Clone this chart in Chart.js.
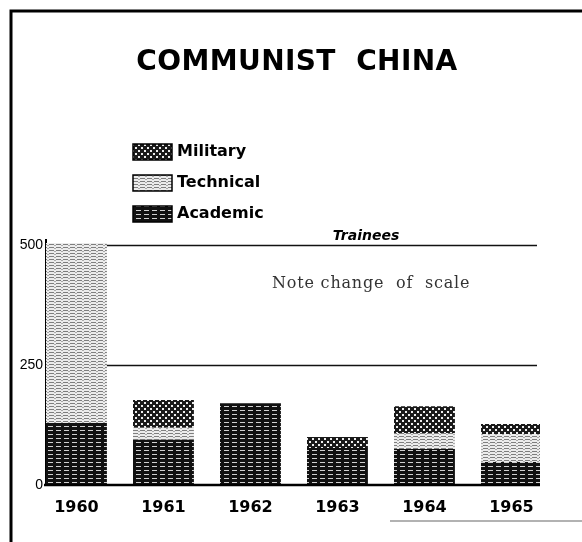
<!DOCTYPE html>
<html>
<head>
<meta charset="utf-8">
<script src="https://cdn.jsdelivr.net/npm/chart.js@4.4.1/dist/chart.umd.min.js"></script>
<style>
html,body{margin:0;padding:0;background:#fff;}
#wrap{position:relative;width:582px;height:542px;}
</style>
</head>
<body>
<div id="wrap"><canvas id="c" width="582" height="542"></canvas></div>
<script>
// ---- data ----
const categories = ['1960','1961','1962','1963','1964','1965'];
const academic  = [129, 94, 170, 77, 75, 48];
const technical = [375, 25, 0, 0, 33, 58];
const military  = [0, 58, 0, 23, 56, 21];
const yTicks = [0, 250, 500];
const title = 'COMMUNIST  CHINA';
const legendLabels = ['Military', 'Technical', 'Academic'];
const unitLabel = 'Trainees';
const noteText = 'Note change  of  scale';

// ---- patterns ----
function makePattern(w, h, draw) {
  const cv = document.createElement('canvas');
  cv.width = w; cv.height = h;
  const g = cv.getContext('2d');
  draw(g, w, h);
  return document.getElementById('c').getContext('2d').createPattern(cv, 'repeat');
}
const pAcademic = makePattern(8, 4, (g, w, h) => {
  g.fillStyle = '#111'; g.fillRect(0, 0, w, h);
  g.fillStyle = '#d0d0d0'; g.fillRect(0, 2, 5, 1);
});
const pTechnical = makePattern(7, 3, (g, w, h) => {
  g.fillStyle = '#ececec'; g.fillRect(0, 0, w, h);
  g.fillStyle = '#7e7e7e'; g.fillRect(0, 1, 5, 1);
  g.fillStyle = '#aaaaaa'; g.fillRect(5, 2, 2, 1);
});
const pMilitary = makePattern(6, 6, (g, w, h) => {
  g.fillStyle = '#1a1a1a'; g.fillRect(0, 0, w, h);
  g.fillStyle = '#eeeeee'; g.fillRect(0, 0, 2, 2); g.fillRect(3, 3, 2, 2);
});
const patterns = { Military: pMilitary, Technical: pTechnical, Academic: pAcademic };

const toXY = arr => arr.map((v, i) => ({ x: i, y: v }));

const deco = {
  id: 'deco',
  beforeDatasetsDraw(chart) {
    const { ctx, scales: { y } } = chart;
    ctx.save();
    ctx.strokeStyle = '#111';
    ctx.lineWidth = 1.3;
    [250, 500].forEach(v => {
      const py = Math.round(y.getPixelForValue(v)) + 0.5;
      ctx.beginPath(); ctx.moveTo(chart.chartArea.left, py); ctx.lineTo(537, py); ctx.stroke();
    });
    ctx.restore();
  },
  afterDatasetsDraw(chart) {
    const { ctx, scales: { y } } = chart;
    ctx.save();
    // baseline
    const by = y.getPixelForValue(0);
    ctx.strokeStyle = '#000'; ctx.lineWidth = 2.5;
    ctx.beginPath(); ctx.moveTo(44, by); ctx.lineTo(540, by); ctx.stroke();
    // frame
    ctx.lineWidth = 3;
    ctx.beginPath(); ctx.moveTo(11, 542); ctx.lineTo(11, 11); ctx.lineTo(582, 11); ctx.stroke();
    ctx.strokeStyle = '#999'; ctx.lineWidth = 1.5;
    ctx.beginPath(); ctx.moveTo(390, 521); ctx.lineTo(582, 521); ctx.stroke();
    // title
    ctx.fillStyle = '#000';
    ctx.textAlign = 'center'; ctx.textBaseline = 'alphabetic';
    ctx.font = 'bold 28px "DejaVu Sans"';
    ctx.letterSpacing = '0.4px';
    ctx.fillText(title, 297, 70);
    ctx.letterSpacing = '0px';
    // legend
    const rows = [152, 183, 214];
    legendLabels.forEach((lab, i) => {
      const cy = rows[i];
      ctx.fillStyle = patterns[lab];
      ctx.fillRect(133, cy - 8, 39, 16);
      ctx.strokeStyle = '#000'; ctx.lineWidth = 1.5;
      ctx.strokeRect(133, cy - 8, 39, 16);
      ctx.fillStyle = '#000';
      ctx.textAlign = 'left'; ctx.textBaseline = 'middle';
      ctx.font = 'bold 16px "DejaVu Sans"';
      ctx.fillText(lab, 177, cy);
    });
    // Trainees
    ctx.font = 'italic bold 14px "DejaVu Sans"';
    ctx.textAlign = 'center'; ctx.textBaseline = 'alphabetic';
    ctx.fillText(unitLabel, 366, 240);
    // note
    ctx.fillStyle = '#333';
    ctx.font = '16px "DejaVu Serif"';
    ctx.letterSpacing = '0.8px';
    ctx.textAlign = 'left';
    ctx.fillText(noteText, 272, 288);
    ctx.letterSpacing = '0px';
    ctx.restore();
  }
};

new Chart(document.getElementById('c'), {
  type: 'bar',
  data: {
    datasets: [
      { label: 'Academic', data: toXY(academic), backgroundColor: pAcademic },
      { label: 'Technical', data: toXY(technical), backgroundColor: pTechnical },
      { label: 'Military', data: toXY(military), backgroundColor: pMilitary }
    ]
  },
  options: {
    responsive: false,
    animation: false,
    layout: { padding: { left: 0, right: 42, top: 240, bottom: 17 } },
    datasets: { bar: { barPercentage: 0.7, categoryPercentage: 1, borderWidth: 0 } },
    plugins: { legend: { display: false }, tooltip: { enabled: false }, title: { display: false } },
    scales: {
      x: {
        type: 'linear', stacked: true, offset: false, min: -0.35, max: 5.328,
        afterBuildTicks: s => { s.ticks = categories.map((c, i) => ({ value: i })); },
        afterFit: s => { s.height = 40; },
        grid: { display: false, drawTicks: false }, border: { display: false },
        ticks: {
          callback: v => categories[v], padding: 13, maxRotation: 0, autoSkip: false,
          color: '#000', font: { family: 'DejaVu Sans', weight: 'bold', size: 16 }
        }
      },
      y: {
        stacked: true, min: 0, max: 510,
        afterBuildTicks: s => { s.ticks = yTicks.map(v => ({ value: v })); },
        afterFit: s => { s.width = 46; },
        grid: { display: false, drawTicks: false },
        border: { display: true, color: '#000', width: 2 },
        ticks: { padding: 3, color: '#000', font: { family: 'Liberation Sans', size: 14 } }
      }
    }
  },
  plugins: [deco]
});
</script>
</body>
</html>
